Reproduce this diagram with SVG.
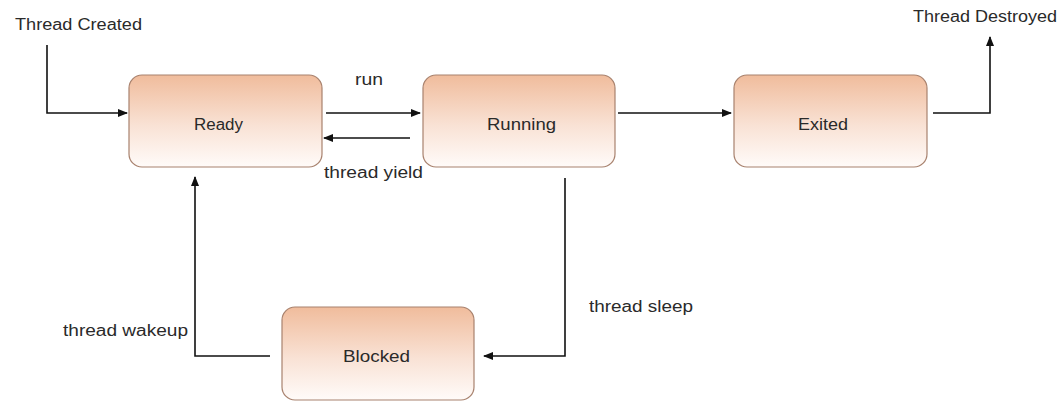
<svg xmlns="http://www.w3.org/2000/svg" width="1064" height="404" viewBox="0 0 1064 404">
<style>
.node{stroke:#a8826e;stroke-width:1.2;fill:url(#g)}
.lbl{font-family:"Liberation Sans",Arial,sans-serif;font-size:16px;fill:#2a2a2a}
.edge{fill:none;stroke:#111;stroke-width:1.6;marker-end:url(#ah)}
</style>
<defs>
<linearGradient id="g" x1="0" y1="0" x2="0" y2="1">
<stop offset="0" stop-color="#f0bc9c"/>
<stop offset="0.55" stop-color="#f9e2d5"/>
<stop offset="1" stop-color="#fffbf9"/>
</linearGradient>
<marker id="ah" markerWidth="10" markerHeight="8" refX="9" refY="4" orient="auto" markerUnits="userSpaceOnUse">
<path d="M0,0 L10,4 L0,8 Z" fill="#111"/>
</marker>
</defs>
<rect width="1064" height="404" fill="#fff"/>
<g id="connectors">
<path class="edge" d="M47,45 V113 H127"/>
<path class="edge" d="M326,113 H420"/>
<path class="edge" d="M410,138 H324"/>
<path class="edge" d="M618,113 H731"/>
<path class="edge" d="M933,113 H990 V37"/>
<path class="edge" d="M565,178 V356 H484"/>
<path class="edge" d="M270,356 H195 V177"/>
<text class="lbl" x="355" y="85" textLength="28" lengthAdjust="spacingAndGlyphs">run</text>
<text class="lbl" x="324" y="178" textLength="99" lengthAdjust="spacingAndGlyphs">thread yield</text>
<text class="lbl" x="589" y="312" textLength="104" lengthAdjust="spacingAndGlyphs">thread sleep</text>
<text class="lbl" x="63" y="336" textLength="125" lengthAdjust="spacingAndGlyphs">thread wakeup</text>
<text class="lbl" x="15" y="30" textLength="127" lengthAdjust="spacingAndGlyphs">Thread Created</text>
<text class="lbl" x="913" y="22" textLength="144" lengthAdjust="spacingAndGlyphs">Thread Destroyed</text>
</g>
<g id="ready">
<rect class="node" x="129" y="75" width="193" height="92" rx="13"/>
<text class="lbl" x="194" y="130" textLength="49" lengthAdjust="spacingAndGlyphs">Ready</text>
</g>
<g id="running">
<rect class="node" x="423" y="75" width="192" height="92" rx="13"/>
<text class="lbl" x="487" y="130" textLength="69" lengthAdjust="spacingAndGlyphs">Running</text>
</g>
<g id="exited">
<rect class="node" x="734" y="75" width="193" height="92" rx="13"/>
<text class="lbl" x="798" y="130" textLength="50" lengthAdjust="spacingAndGlyphs">Exited</text>
</g>
<g id="blocked">
<rect class="node" x="282" y="307" width="192" height="93" rx="13"/>
<text class="lbl" x="343" y="362" textLength="67" lengthAdjust="spacingAndGlyphs">Blocked</text>
</g>
</svg>
